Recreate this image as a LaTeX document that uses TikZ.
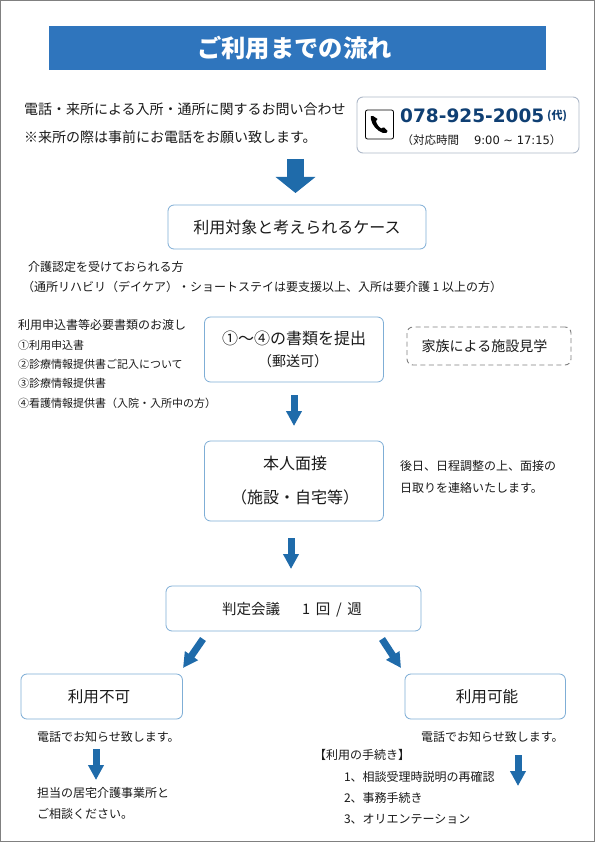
\documentclass[tikz,border=0pt]{standalone}
\usepackage{fontspec}
\setmainfont{Noto Sans CJK JP}
\newfontfamily\latfont{DejaVu Sans}
\usetikzlibrary{arrows.meta}
\definecolor{band}{HTML}{2F75BD}
\definecolor{arrowblue}{HTML}{1F6BAA}
\definecolor{boxedge}{HTML}{7FAED6}
\definecolor{phoneedge}{HTML}{AEB9C9}
\definecolor{navy}{HTML}{0F3F73}
\definecolor{ink}{HTML}{1A1A1A}
\newcommand{\fsz}[1]{\fontsize{#1}{#1}\selectfont}
\tikzset{
  txt/.style={font=\fsz{#1},inner sep=0pt,outer sep=0pt,text=ink,text height=0.88*#1pt,text depth=0.12*#1pt},
  ltxt/.style={txt=#1,anchor=west},
  flowbox/.style={draw=boxedge,line width=0.8pt,rounded corners=6pt,fill=white},
  bigarrow/.style={draw=arrowblue,line width=17pt,-{Triangle[length=16pt,width=39pt,fill=arrowblue]}},
  midarrow/.style={draw=arrowblue,line width=7pt,-{Triangle[length=15pt,width=15pt,fill=arrowblue]}},
}
\begin{document}
\begin{tikzpicture}[x=1pt,y=-1pt]
\useasboundingbox (0,0) rectangle (595,842);
\fill[white] (0,0) rectangle (595,842);
\draw[line width=1pt,draw=black!50] (0.5,0.5) rectangle (594.5,841.5);

% title
\node[fill=band,minimum width=497pt,minimum height=44pt,inner sep=0pt] (title) at (297.5,48) {};
\node[font=\fsz{24.3}\bfseries,text=white,inner sep=0pt] (titletext) at (294.5,48) {ご利用までの流れ};

% enquiry
\node[ltxt=14] (q1) at (24,109) {電話・来所による入所・通所に関するお問い合わせ};
\node[ltxt=14] (q2) at (24,137) {※来所の際は事前にお電話をお願い致します。};

% phone box
\node[draw=phoneedge,line width=0.9pt,rounded corners=6pt,minimum width=222pt,minimum height=56pt,inner sep=0pt] (phonebox) at (468,125) {};
\node[draw=black,line width=0.8pt,rounded corners=2pt,minimum width=28pt,minimum height=29pt,inner sep=0pt] (phoneicon) at (379.5,124.5) {};
\fill[black] (373,116) .. controls (371,114.5) and (370,117) .. (371,119.5)
  .. controls (372,125) and (377,131) .. (383,133)
  .. controls (385.5,134) and (388,132.5) .. (387.5,131) -- (384,127.5)
  .. controls (383,127) and (382.5,128) .. (381.5,128.5)
  .. controls (379,127.5) and (376.5,124) .. (376,121)
  .. controls (376.5,120) and (377.5,120) .. (377.5,119) -- cycle;
\node[inner sep=0pt,anchor=west,text=navy,font=\fsz{18.5}\latfont\bfseries,text height=13.5pt,text depth=0pt] (phonenum) at (400,116) {078-925-2005};
\node[inner sep=0pt,anchor=west,text=navy,font=\fsz{11}\bfseries] (phonedai) at (547,115.5) {(代)};
\node[ltxt=11.5] (hours) at (401.5,140) {（対応時間\hspace{15pt}{\latfont\fsz{11.5}9:00 \textasciitilde{} 17:15}）};

% arrow 1
\coordinate (a1s) at (295.5,159);
\coordinate (a1e) at (295.5,193);
\draw[bigarrow] (a1s) -- (a1e);

% case box
\node[flowbox,minimum width=258pt,minimum height=44pt,inner sep=0pt,txt=16] (case) at (297,227) {利用対象と考えられるケース};
\node[ltxt=12] (c1) at (28,267) {介護認定を受けておられる方};
\node[ltxt=12] (c2) at (22,287) {（通所リハビリ（デイケア）・ショートステイは要支援以上、入所は要介護 1 以上の方）};

% documents list
\node[ltxt=12] (d0) at (18,325) {利用申込書等必要書類のお渡し};
\node[ltxt=11] (d1) at (18,345) {①利用申込書};
\node[ltxt=11] (d2) at (18,364) {②診療情報提供書ご記入について};
\node[ltxt=11] (d3) at (18,383) {③診療情報提供書};
\node[ltxt=11] (d4) at (18,403) {④看護情報提供書（入院・入所中の方）};

% submit box
\node[flowbox,minimum width=179pt,minimum height=65pt] (submit) at (294,349.5) {};
\node[txt=16] (s1) at (294,338) {①〜④の書類を提出};
\node[txt=14] (s2) at (293,361) {（郵送可）};

% visit box
\node[draw=black!50,line width=0.9pt,dashed,dash pattern=on 5pt off 3.5pt,rounded corners=6pt,minimum width=164pt,minimum height=38pt,inner sep=0pt] (visit) at (489,346) {};
\node[txt=14] (visittext) at (484.5,346) {家族による施設見学};

% arrow 2
\coordinate (a2s) at (294,395);
\coordinate (a2e) at (294,426);
\draw[midarrow] (a2s) -- (a2e);

% interview
\node[flowbox,minimum width=179pt,minimum height=80pt] (interview) at (294,481) {};
\node[txt=16] (i1) at (295,463) {本人面接};
\node[txt=16] (i2) at (295,497) {（施設・自宅等）};
\node[ltxt=12] (i3) at (400,466) {後日、日程調整の上、面接の};
\node[ltxt=12] (i4) at (400,488) {日取りを連絡いたします。};

% arrow 3
\coordinate (a3s) at (291,538);
\coordinate (a3e) at (291,569);
\draw[midarrow] (a3s) -- (a3e);

% judging
\node[flowbox,minimum width=255pt,minimum height=45pt,inner sep=0pt] (judge) at (293.5,608.5) {};
\node[ltxt=14.5] (judgetext) at (222,609) {判定会議\hspace{22pt}1\hspace{2.5pt} 回\hspace{2.5pt} /\hspace{2.5pt} 週};

% diagonal arrows
\coordinate (a4s) at (203,639);
\coordinate (a4e) at (183,668);
\draw[midarrow] (a4s) -- (a4e);
\coordinate (a5s) at (382,639);
\coordinate (a5e) at (401,668);
\draw[midarrow] (a5s) -- (a5e);

% outcome boxes
\node[flowbox,minimum width=161.5pt,minimum height=45pt,inner sep=0pt] (ng) at (101.7,696.5) {};
\node[txt=15.6] (ngtext) at (99,697) {利用不可};
\node[flowbox,minimum width=160.5pt,minimum height=45pt,inner sep=0pt] (ok) at (485.2,696.5) {};
\node[txt=15.6] (oktext) at (487,697) {利用可能};

% left outcome
\node[ltxt=12] (n1) at (37,737) {電話でお知らせ致します。};
\coordinate (a6s) at (96,749);
\coordinate (a6e) at (96,780);
\draw[midarrow] (a6s) -- (a6e);
\node[ltxt=12] (n2) at (37,793) {担当の居宅介護事業所と};
\node[ltxt=12] (n3) at (37,814) {ご相談ください。};

% right outcome
\node[ltxt=12] (o1) at (421,737) {電話でお知らせ致します。};
\coordinate (a7s) at (518,755);
\coordinate (a7e) at (518,786);
\draw[midarrow] (a7s) -- (a7e);
\node[ltxt=12] (o2) at (314,755) {【利用の手続き】};
\node[ltxt=12] (o3) at (344,777) {1、相談受理時説明の再確認};
\node[ltxt=12] (o4) at (344,798) {2、事務手続き};
\node[ltxt=12] (o5) at (344,819) {3、オリエンテーション};
\end{tikzpicture}
\end{document}
